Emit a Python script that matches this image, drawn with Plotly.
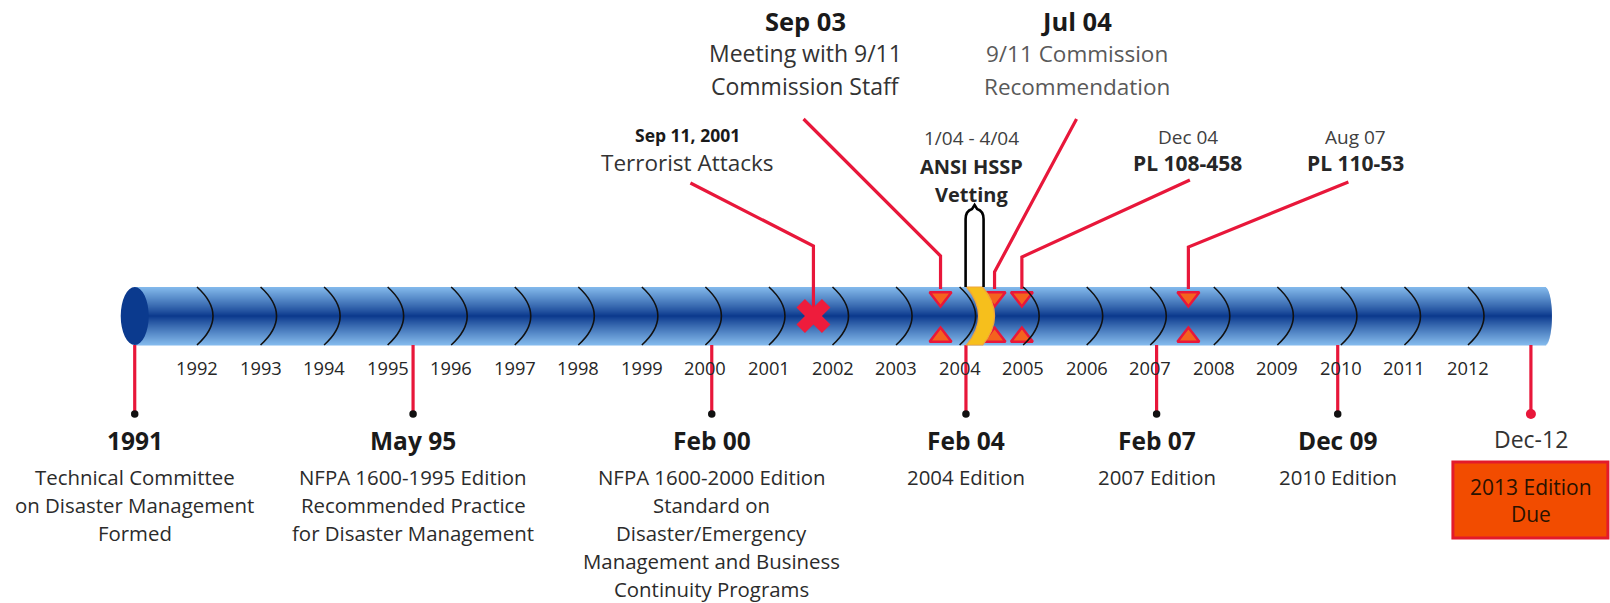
import numpy as np
import plotly.graph_objects as go

# ---------------- data ----------------
tick_years = list(range(1992, 2013))
tick_labels = [str(y) for y in tick_years]

bottom_dates = [1991.02, 1995.4, 2000.1, 2004.1, 2007.1, 2009.95, 2012.99]
bottom_titles = ["1991", "May 95", "Feb 00", "Feb 04", "Feb 07", "Dec 09", "Dec-12"]
bottom_descs = [
    ["Technical Committee", "on Disaster Management", "Formed"],
    ["NFPA 1600-1995 Edition", "Recommended Practice", "for Disaster Management"],
    ["NFPA 1600-2000 Edition", "Standard on", "Disaster/Emergency",
     "Management and Business", "Continuity Programs"],
    ["2004 Edition"],
    ["2007 Edition"],
    ["2010 Edition"],
    ["2013 Edition", "Due"],
]

top_dates = [2001.7, 2003.7, 2004.55, 2004.98, 2007.6]
top_titles = ["Sep 11, 2001", "Sep 03", "Jul 04", "Dec 04", "Aug 07"]
top_descs = [["Terrorist Attacks"],
             ["Meeting with 9/11", "Commission Staff"],
             ["9/11 Commission", "Recommendation"],
             ["PL 108-458"],
             ["PL 110-53"]]

vet_start, vet_end = 2004.0, 2004.33
vet_title = "1/04 - 4/04"
vet_desc = ["ANSI HSSP", "Vetting"]

timeline_start, timeline_end = 1991.02, 2013.21

# ---------------- layout helpers ----------------
W, H = 1610, 603
PX_PER_YEAR = 63.55
REF_YEAR, REF_PX = 1992, 197
X_RANGE = [REF_YEAR - REF_PX / PX_PER_YEAR, REF_YEAR + (W - REF_PX) / PX_PER_YEAR]


def px(d):
    return d / PX_PER_YEAR


FONT = "Open Sans"
RED = "#e8173a"
TUBE_TOP, TUBE_BOT = 287, 345
TUBE_MID = (TUBE_TOP + TUBE_BOT) / 2
HALF = (TUBE_BOT - TUBE_TOP) / 2

shapes = []
annotations = []


def lerp(c1, c2, t):
    return "rgb(%d,%d,%d)" % tuple(int(round(a + (b - a) * t)) for a, b in zip(c1, c2))


DARK = (10, 56, 140)
LIGHT = (132, 186, 236)

# tube body gradient
for i in range(TUBE_BOT - TUBE_TOP):
    y0 = TUBE_TOP + i
    t = abs(y0 + 0.5 - TUBE_MID) / HALF
    t = min(t, 1.0)
    xr = timeline_end + px(7 * np.sqrt(max(0.0, 1 - t ** 2)))
    shapes.append(dict(type="rect", xref="x", yref="y", x0=timeline_start, x1=xr,
                       y0=y0, y1=y0 + 1.4, fillcolor=lerp(DARK, LIGHT, t ** 0.9),
                       line=dict(width=0), layer="below"))

# left cap
shapes.append(dict(type="circle", xref="x", yref="y",
                   x0=timeline_start - px(14), x1=timeline_start + px(14),
                   y0=TUBE_TOP, y1=TUBE_BOT, fillcolor="#0b3a8e", line=dict(width=0)))

bulge = px(32)

# vetting band (yellow)
a, b = vet_start + px(7), vet_end + px(2)
yb = px(24)
shapes.append(dict(type="path", xref="x", yref="y",
                   path=f"M {a},{TUBE_TOP} Q {a + yb},{TUBE_MID} {a},{TUBE_BOT} "
                        f"L {b},{TUBE_BOT} Q {b + yb},{TUBE_MID} {b},{TUBE_TOP} Z",
                   fillcolor="#f6bf1c", line=dict(color="#f0a63a", width=1.2)))

# year arcs
for yr in tick_years:
    shapes.append(dict(type="path", xref="x", yref="y",
                       path=f"M {yr},{TUBE_TOP} Q {yr + bulge},{TUBE_MID} {yr},{TUBE_BOT}",
                       line=dict(color="#111111", width=1.6)))

# vetting bracket
bl, br = vet_start + px(6), vet_end + px(3)
bm = (bl + br) / 2
shapes.append(dict(type="path", xref="x", yref="y",
                   path=f"M {bl},{TUBE_TOP} L {bl},{219} Q {bl},{211} {bm - px(2.5)},{209} "
                        f"L {bm},{205} L {bm + px(2.5)},{209} Q {br},{211} {br},{219} L {br},{TUBE_TOP}",
                   line=dict(color="#000000", width=2.6)))

# bottom box
bx = bottom_dates[-1]
shapes.append(dict(type="rect", xref="x", yref="y", x0=bx - px(78), x1=bx + px(77),
                   y0=462, y1=538, fillcolor="#f24c00", line=dict(color="#e31b2b", width=3)))

fig = go.Figure()

# bottom stems
for d in bottom_dates:
    fig.add_trace(go.Scatter(x=[d, d], y=[TUBE_BOT, 414], mode="lines",
                             line=dict(color=RED, width=3.2), hoverinfo="skip", showlegend=False))
fig.add_trace(go.Scatter(x=bottom_dates[:-1], y=[414] * (len(bottom_dates) - 1), mode="markers",
                         marker=dict(color="#111111", size=7.5), hoverinfo="skip", showlegend=False))
fig.add_trace(go.Scatter(x=[bottom_dates[-1]], y=[414], mode="markers",
                         marker=dict(color=RED, size=10), hoverinfo="skip", showlegend=False))

# top callouts
label_dx = [-126, -135, 82, 166, 167]
start_dx = [3, -2, 0, 2, -7]
start_y = [183, 119, 119, 180, 182]
bend_y = [246, 256, 272, 257, 247]
for i, d in enumerate(top_dates):
    lx = d + px(label_dx[i])
    end_y = TUBE_MID if i == 0 else TUBE_TOP + 2
    fig.add_trace(go.Scatter(x=[lx + px(start_dx[i]), d, d], y=[start_y[i], bend_y[i], end_y],
                             mode="lines", line=dict(color=RED, width=3.2),
                             hoverinfo="skip", showlegend=False))

# X marker for Sep 11
fig.add_trace(go.Scatter(x=[top_dates[0]], y=[TUBE_MID], mode="markers",
                         marker=dict(symbol="x", size=30, color="#ee1c3c", line=dict(width=0)),
                         hoverinfo="skip", showlegend=False))
# triangles
tri = top_dates[1:]
fig.add_trace(go.Scatter(x=tri, y=[297] * len(tri), mode="markers",
                         marker=dict(symbol="triangle-down", size=19, color="#f4631e",
                                     line=dict(color=RED, width=2.5)),
                         hoverinfo="skip", showlegend=False))
fig.add_trace(go.Scatter(x=tri, y=[337] * len(tri), mode="markers",
                         marker=dict(symbol="triangle-up", size=19, color="#f4631e",
                                     line=dict(color=RED, width=2.5)),
                         hoverinfo="skip", showlegend=False))


def text(x, y, s, size, color="#262626", bold=False):
    annotations.append(dict(x=x, y=y, xref="x", yref="y", showarrow=False,
                            text=f"<b>{s}</b>" if bold else s,
                            font=dict(family=FONT, size=size, color=color),
                            xanchor="center", yanchor="middle", borderpad=0))


# year labels
for yr, lab in zip(tick_years, tick_labels):
    text(yr, 367, lab, 18.3, "#262626")

# bottom labels
for i, d in enumerate(bottom_dates):
    if i == len(bottom_dates) - 1:
        text(d, 439, bottom_titles[i], 23, "#333333")
        for j, s in enumerate(bottom_descs[i]):
            text(d, 487 + 27 * j, s, 21, "#2a1200")
    else:
        text(d, 440, bottom_titles[i], 24.5, "#1a1a1a", bold=True)
        for j, s in enumerate(bottom_descs[i]):
            text(d, 477 + 27.9 * j, s, 20.4, "#2b2b2b")

# top labels
title_y = [135, 21, 21, 137, 137]
title_size = [17.5, 25.5, 25.5, 19, 19]
title_bold = [True, True, True, False, False]
title_col = ["#1a1a1a", "#1a1a1a", "#1a1a1a", "#404040", "#404040"]
desc_y = [[162], [53, 86], [53, 86], [163], [163]]
desc_size = [22.5, 23, 22.5, 21, 21]
desc_bold = [False, False, False, True, True]
desc_col = ["#333333", "#333333", "#595959", "#262626", "#262626"]
for i, d in enumerate(top_dates):
    lx = d + px(label_dx[i])
    text(lx, title_y[i], top_titles[i], title_size[i], title_col[i], title_bold[i])
    for j, s in enumerate(top_descs[i]):
        text(lx, desc_y[i][j], s, desc_size[i], desc_col[i], desc_bold[i])

# vetting labels
vx = (vet_start + vet_end) / 2 + px(1)
text(vx, 138, vet_title, 19, "#404040")
for j, s in enumerate(vet_desc):
    text(vx, 166 + 28 * j, s, 20, "#262626", bold=True)

fig.update_layout(
    width=W, height=H, margin=dict(l=0, r=0, t=0, b=0),
    paper_bgcolor="white", plot_bgcolor="white",
    xaxis=dict(range=X_RANGE, visible=False, fixedrange=True),
    yaxis=dict(range=[H, 0], visible=False, fixedrange=True),
    shapes=shapes, annotations=annotations, showlegend=False,
    hovermode=False,
)
fig.write_html("out.html", config={"displayModeBar": False, "staticPlot": True},
               post_script="document.body.style.margin='0';document.body.style.overflow='hidden';")
